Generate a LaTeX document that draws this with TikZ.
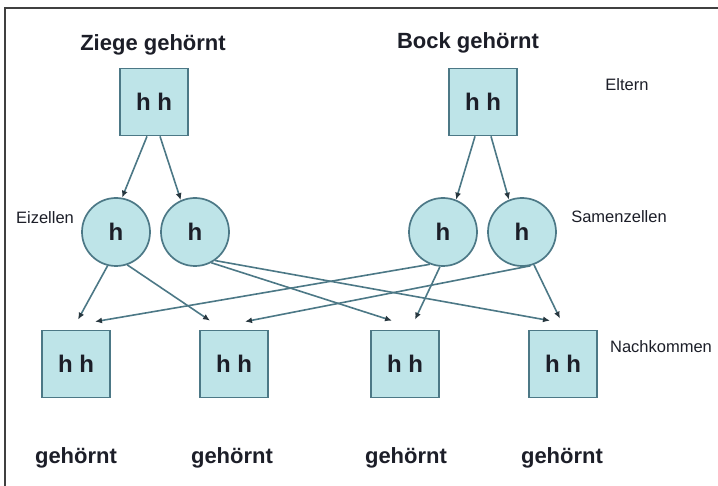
\documentclass[tikz,border=0pt]{standalone}
\usepackage{fontspec}
\setmainfont{Liberation Sans}
\usetikzlibrary{arrows.meta}
\definecolor{cellfill}{RGB}{190,228,232}
\definecolor{cellline}{RGB}{76,120,134}
\definecolor{tipcol}{RGB}{40,56,64}
\definecolor{ink}{RGB}{28,30,40}
\tikzset{
  pbox/.style={draw=cellline, line width=1.7pt, fill=cellfill, minimum width=68pt, minimum height=67pt, inner sep=0pt, font=\fontsize{24}{26}\selectfont\bfseries, text=ink},
  gcell/.style={circle, draw=cellline, line width=1.7pt, fill=cellfill, minimum size=68pt, inner sep=0pt, font=\fontsize{24}{26}\selectfont\bfseries, text=ink},
  blabel/.style={font=\fontsize{22}{24}\selectfont\bfseries, text=ink, inner sep=0pt},
  slabel/.style={font=\fontsize{16.5}{18}\selectfont, text=ink, inner sep=0pt},
  conn/.style={draw=cellline, line width=1.6pt, -{Latex[length=7pt,width=6pt,color=tipcol]}},
  frameline/.style={draw=black!75, line width=1.5pt}
}
\begin{document}
\begin{tikzpicture}[x=1pt,y=-1pt]
\useasboundingbox (0,0) rectangle (718,486);
\fill[white] (0,0) rectangle (718,486);
\coordinate (fa) at (5,486);
\coordinate (fb) at (5,8);
\coordinate (fc) at (718,8);
\draw[frameline] (fa) -- (fb) -- (fc);

% labels
\node[blabel] (tz) at (153,45) {Ziege gehörnt};
\node[blabel] (tb) at (468,43) {Bock gehörnt};
\node[slabel] (lel) at (627,85) {Eltern};
\node[slabel] (lei) at (45,218) {Eizellen};
\node[slabel] (lsa) at (619,217) {Samenzellen};
\node[slabel] (lna) at (661,347) {Nachkommen};

% parents
\node[pbox] (zb) at (154,102) {h h};
\node[pbox] (bb) at (483,102) {h h};

% gametes
\node[gcell] (c1) at (116,232) {h};
\node[gcell] (c2) at (195,232) {h};
\node[gcell] (c3) at (443,232) {h};
\node[gcell] (c4) at (522,232) {h};

% offspring
\node[pbox] (n1) at (76,364) {h h};
\node[pbox] (n2) at (234,364) {h h};
\node[pbox] (n3) at (405,364) {h h};
\node[pbox] (n4) at (563,364) {h h};

\node[blabel] (g1) at (76,458) {gehörnt};
\node[blabel] (g2) at (232,458) {gehörnt};
\node[blabel] (g3) at (406,458) {gehörnt};
\node[blabel] (g4) at (562,458) {gehörnt};

% parent -> gametes
\draw[conn] ([xshift=-7pt]zb.south) -- (c1.80);
\draw[conn] ([xshift=6pt]zb.south) -- (c2.114);
\draw[conn] ([xshift=-8pt]bb.south) -- (c3.68);
\draw[conn] ([xshift=8pt]bb.south) -- (c4.112);

% gametes -> offspring
\draw[conn] (c1.-104) -- ([xshift=2pt,yshift=10pt]n1.north);
\draw[conn] (c1.-71) -- ([xshift=-24pt,yshift=9pt]n2.north);
\draw[conn] (c2.-62) -- ([xshift=-13pt,yshift=9pt]n3.north);
\draw[conn] (c2.-55) -- ([xshift=-13pt,yshift=9pt]n4.north);
\draw[conn] (c3.-112) -- ([xshift=19pt,yshift=8pt]n1.north);
\draw[conn] (c3.-95) -- ([xshift=10pt,yshift=10pt]n3.north);
\draw[conn] (c4.-76) -- ([xshift=11pt,yshift=8pt]n2.north);
\draw[conn] (c4.-70) -- ([xshift=-3pt,yshift=11pt]n4.north);
\end{tikzpicture}
\end{document}
